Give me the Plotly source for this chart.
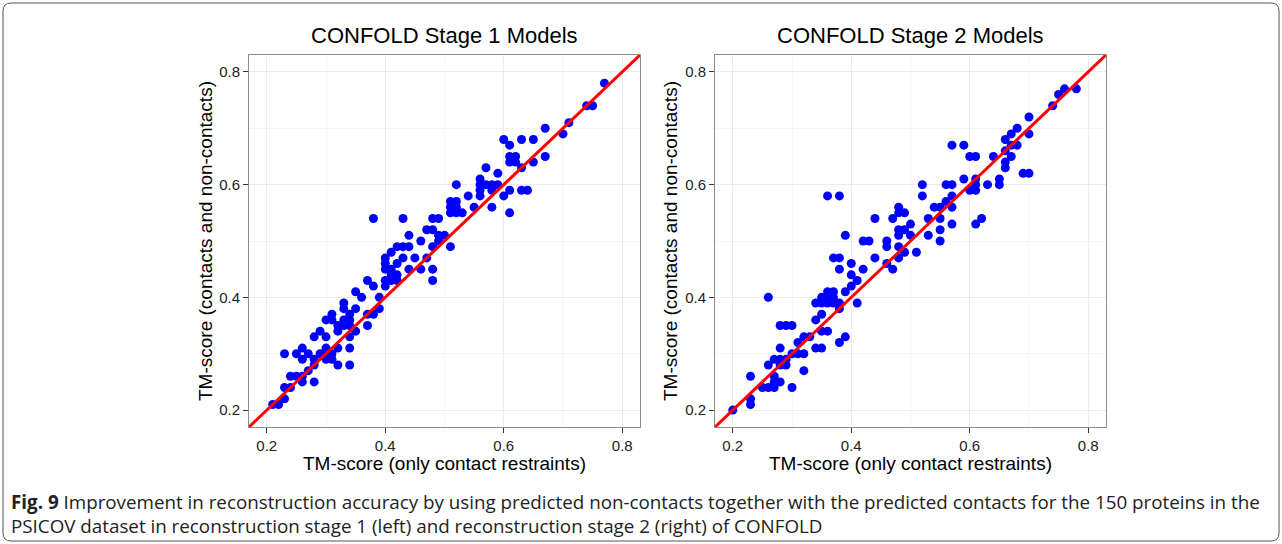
import plotly.graph_objects as go

# TM-scores per protein: x = only contact restraints, y = contacts and non-contacts
stage1_x = [0.77, 0.74, 0.75, 0.71, 0.70, 0.67, 0.67, 0.65, 0.63, 0.60, 0.61, 0.61, 0.62, 0.61, 0.62,
            0.63, 0.65, 0.63, 0.64, 0.61, 0.61, 0.60, 0.57, 0.59, 0.56, 0.56, 0.57, 0.58, 0.59, 0.56,
            0.56, 0.58, 0.58, 0.55, 0.54, 0.52, 0.51, 0.52, 0.51, 0.52, 0.51, 0.52, 0.53, 0.51, 0.48,
            0.49, 0.47, 0.48, 0.49, 0.50, 0.49, 0.48, 0.46, 0.47, 0.46, 0.48, 0.48, 0.44, 0.43, 0.38,
            0.45, 0.44, 0.42, 0.43, 0.44, 0.41, 0.43, 0.42, 0.40, 0.40, 0.40, 0.41, 0.41, 0.42, 0.40,
            0.41, 0.42, 0.40, 0.38, 0.37, 0.39, 0.36, 0.35, 0.39, 0.38, 0.37, 0.37, 0.35, 0.35, 0.34,
            0.33, 0.33, 0.33, 0.34, 0.32, 0.33, 0.34, 0.32, 0.31, 0.30, 0.31, 0.34, 0.34, 0.34, 0.32,
            0.32, 0.30, 0.29, 0.28, 0.30, 0.29, 0.30, 0.31, 0.30, 0.31, 0.27, 0.26, 0.25, 0.26, 0.28,
            0.27, 0.28, 0.26, 0.25, 0.24, 0.26, 0.28, 0.23, 0.23, 0.24, 0.23, 0.22, 0.21]
stage1_y = [0.78, 0.74, 0.74, 0.71, 0.69, 0.70, 0.65, 0.68, 0.68, 0.68, 0.67, 0.65, 0.65, 0.64, 0.64,
            0.63, 0.64, 0.59, 0.59, 0.59, 0.55, 0.58, 0.63, 0.62, 0.61, 0.60, 0.60, 0.60, 0.60, 0.59,
            0.58, 0.59, 0.56, 0.56, 0.58, 0.60, 0.57, 0.57, 0.56, 0.56, 0.55, 0.55, 0.55, 0.49, 0.54,
            0.54, 0.52, 0.52, 0.51, 0.51, 0.50, 0.49, 0.50, 0.47, 0.45, 0.45, 0.43, 0.51, 0.54, 0.54,
            0.47, 0.45, 0.49, 0.49, 0.49, 0.48, 0.47, 0.46, 0.47, 0.46, 0.45, 0.45, 0.44, 0.44, 0.43,
            0.43, 0.43, 0.42, 0.42, 0.43, 0.40, 0.40, 0.41, 0.38, 0.37, 0.37, 0.35, 0.38, 0.34, 0.37,
            0.39, 0.38, 0.36, 0.36, 0.35, 0.35, 0.35, 0.34, 0.36, 0.36, 0.37, 0.33, 0.31, 0.28, 0.28,
            0.31, 0.33, 0.34, 0.33, 0.31, 0.30, 0.30, 0.30, 0.29, 0.29, 0.30, 0.31, 0.30, 0.29, 0.29,
            0.27, 0.28, 0.26, 0.26, 0.26, 0.25, 0.25, 0.30, 0.24, 0.24, 0.22, 0.21, 0.21]

stage2_x = [0.78, 0.76, 0.75, 0.74, 0.70, 0.70, 0.68, 0.67, 0.66, 0.67, 0.68, 0.66, 0.67, 0.66, 0.66,
            0.64, 0.69, 0.70, 0.65, 0.65, 0.63, 0.61, 0.61, 0.61, 0.60, 0.59, 0.61, 0.62, 0.60, 0.61,
            0.59, 0.57, 0.56, 0.57, 0.57, 0.57, 0.56, 0.57, 0.55, 0.54, 0.55, 0.55, 0.55, 0.53, 0.53,
            0.52, 0.52, 0.50, 0.50, 0.51, 0.49, 0.48, 0.48, 0.48, 0.49, 0.48, 0.47, 0.48, 0.49, 0.48,
            0.47, 0.46, 0.46, 0.46, 0.44, 0.44, 0.42, 0.43, 0.42, 0.40, 0.40, 0.41, 0.40, 0.41, 0.39,
            0.39, 0.36, 0.38, 0.37, 0.38, 0.38, 0.38, 0.38, 0.36, 0.37, 0.35, 0.36, 0.37, 0.34, 0.35,
            0.36, 0.37, 0.35, 0.34, 0.35, 0.36, 0.39, 0.38, 0.33, 0.32, 0.34, 0.35, 0.31, 0.30, 0.31,
            0.32, 0.32, 0.28, 0.29, 0.30, 0.28, 0.27, 0.28, 0.29, 0.28, 0.29, 0.26, 0.26, 0.27, 0.27,
            0.28, 0.25, 0.26, 0.27, 0.30, 0.23, 0.23, 0.23, 0.20]
stage2_y = [0.77, 0.77, 0.76, 0.74, 0.72, 0.69, 0.70, 0.69, 0.68, 0.67, 0.67, 0.66, 0.65, 0.64, 0.63,
            0.65, 0.62, 0.62, 0.61, 0.60, 0.60, 0.61, 0.60, 0.59, 0.59, 0.61, 0.53, 0.54, 0.65, 0.65,
            0.67, 0.67, 0.60, 0.60, 0.58, 0.56, 0.57, 0.53, 0.56, 0.56, 0.54, 0.52, 0.50, 0.54, 0.51,
            0.60, 0.58, 0.53, 0.51, 0.48, 0.52, 0.52, 0.51, 0.56, 0.55, 0.55, 0.54, 0.49, 0.48, 0.47,
            0.45, 0.50, 0.49, 0.46, 0.54, 0.47, 0.50, 0.50, 0.45, 0.46, 0.44, 0.43, 0.42, 0.39, 0.41,
            0.51, 0.58, 0.58, 0.47, 0.47, 0.45, 0.39, 0.38, 0.41, 0.41, 0.40, 0.40, 0.40, 0.39, 0.39,
            0.39, 0.39, 0.37, 0.36, 0.34, 0.34, 0.33, 0.32, 0.33, 0.33, 0.31, 0.31, 0.32, 0.30, 0.30,
            0.30, 0.27, 0.35, 0.35, 0.35, 0.31, 0.29, 0.29, 0.29, 0.28, 0.28, 0.28, 0.40, 0.26, 0.25,
            0.25, 0.24, 0.24, 0.24, 0.24, 0.26, 0.22, 0.21, 0.20]

panel_titles = ["CONFOLD Stage 1 Models", "CONFOLD Stage 2 Models"]
x_title = "TM-score (only contact restraints)"
y_title = "TM-score (contacts and non-contacts)"
tick_values = [0.2, 0.4, 0.6, 0.8]
tick_labels = ["0.2", "0.4", "0.6", "0.8"]
minor_values = [0.3, 0.5, 0.7]
caption_lines = [
    "<b>Fig. 9</b> Improvement in reconstruction accuracy by using predicted non-contacts "
    "together with the predicted contacts for the 150 proteins in the",
    "PSICOV dataset in reconstruction stage 1 (left) and reconstruction stage 2 (right) of CONFOLD",
]

W, H = 1282, 544
AX_RANGE = [0.17, 0.83]

# panel boxes in pixels (left, right), shared top/bottom
panels_px = [(249, 640), (715, 1106)]
top_px, bottom_px = 55, 427


def px_x(p):
    return p / W


def px_y(p):
    return 1 - p / H


fig = go.Figure()

series = [(stage1_x, stage1_y), (stage2_x, stage2_y)]
for i, (xs, ys) in enumerate(series):
    suffix = "" if i == 0 else "2"
    fig.add_trace(go.Scatter(
        x=xs, y=ys, mode="markers",
        marker=dict(color="#0000FF", size=9, line=dict(width=0)),
        xaxis="x" + suffix, yaxis="y" + suffix, showlegend=False, hoverinfo="skip"))
    # identity line y = x across the panel
    fig.add_trace(go.Scatter(
        x=AX_RANGE, y=AX_RANGE, mode="lines",
        line=dict(color="#FF0000", width=3),
        xaxis="x" + suffix, yaxis="y" + suffix, showlegend=False, hoverinfo="skip"))

axis_style = dict(
    range=AX_RANGE, tickvals=tick_values, ticktext=tick_labels,
    showgrid=True, gridcolor="#EBEBEB", gridwidth=1,
    minor=dict(tickvals=minor_values, showgrid=True, gridcolor="#F5F5F5", gridwidth=1, ticks=""),
    zeroline=False, showline=True, mirror=True, linecolor="#8C8C8C", linewidth=1,
    ticks="outside", ticklen=5, tickcolor="#333333", tickwidth=1,
    tickfont=dict(family="Liberation Sans, Arial, sans-serif", size=15, color="#222222"),
    fixedrange=True,
)

layout_axes = {}
for i, (l, r) in enumerate(panels_px):
    suffix = "" if i == 0 else "2"
    layout_axes["xaxis" + suffix] = dict(axis_style, domain=[px_x(l), px_x(r)],
                                         anchor="y" + suffix)
    layout_axes["yaxis" + suffix] = dict(axis_style, domain=[px_y(bottom_px), px_y(top_px)],
                                         anchor="x" + suffix)

annotations = []
title_font = dict(family="Liberation Sans, Arial, sans-serif", size=22, color="#000000")
label_font = dict(family="Liberation Sans, Arial, sans-serif", size=19, color="#000000")
y_title_x = [205, 670]
for i, (l, r) in enumerate(panels_px):
    cx = (l + r) / 2
    annotations.append(dict(text=panel_titles[i], x=px_x(cx), y=px_y(36), xref="paper", yref="paper",
                            showarrow=False, xanchor="center", yanchor="middle", font=title_font))
    annotations.append(dict(text=x_title, x=px_x(cx), y=px_y(463), xref="paper", yref="paper",
                            showarrow=False, xanchor="center", yanchor="middle", font=label_font))
    annotations.append(dict(text=y_title, x=px_x(y_title_x[i]), y=px_y((top_px + bottom_px) / 2),
                            xref="paper", yref="paper", showarrow=False, textangle=-90,
                            xanchor="center", yanchor="middle", font=label_font))

# two-line figure caption below the panels
caption_font = dict(family="Open Sans, sans-serif", size=18.8, color="#222222")
annotations.append(dict(text="<br>".join(caption_lines), x=px_x(9), y=px_y(514),
                        xref="paper", yref="paper", showarrow=False, align="left",
                        xanchor="left", yanchor="middle", font=caption_font))

# rounded frame around the figure
x0, x1, y0, y1 = 3, 1279, 3, 541
rad = 8
rx, ry = rad / W, rad / H
X0, X1, Y0, Y1 = px_x(x0), px_x(x1), px_y(y1), px_y(y0)
frame_path = (f"M {X0 + rx},{Y1} L {X1 - rx},{Y1} Q {X1},{Y1} {X1},{Y1 - ry} "
              f"L {X1},{Y0 + ry} Q {X1},{Y0} {X1 - rx},{Y0} "
              f"L {X0 + rx},{Y0} Q {X0},{Y0} {X0},{Y0 + ry} "
              f"L {X0},{Y1 - ry} Q {X0},{Y1} {X0 + rx},{Y1} Z")

fig.update_layout(
    width=W, height=H,
    margin=dict(l=0, r=0, t=0, b=0),
    paper_bgcolor="#FFFFFF", plot_bgcolor="#FFFFFF",
    annotations=annotations,
    shapes=[dict(type="path", path=frame_path, xref="paper", yref="paper",
                 line=dict(color="#555555", width=1), layer="below")],
    hovermode=False,
    **layout_axes,
)

fig.write_html("out.html", config={"displayModeBar": False})
